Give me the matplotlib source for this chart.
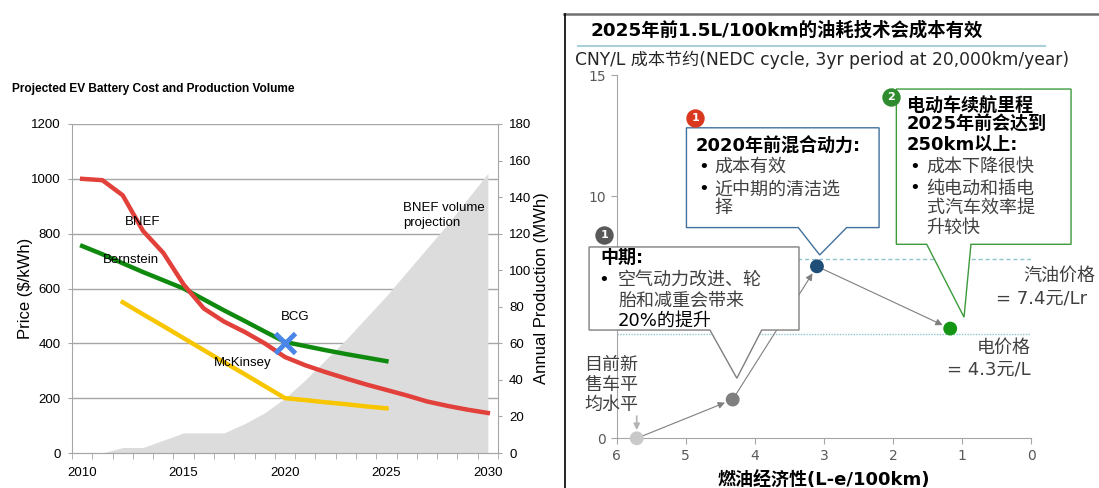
import numpy as np
import matplotlib
matplotlib.use("Agg")
import matplotlib.pyplot as plt
from matplotlib.lines import Line2D
from matplotlib.patches import Polygon

W, H = 1099, 488

# --- battery cost / production volume (left chart) ---
years = list(range(2010, 2031))
bnef_price = [1000, 995, 940, 810, 730, 615, 527, 479, 442, 400, 350,
              320, 295, 272, 250, 230, 210, 188, 172, 158, 146]
bernstein_years = list(range(2010, 2026))
bernstein_price = [755, 725, 692, 660, 630, 600, 560, 520, 482, 443, 405,
                   390, 375, 361, 348, 335]
mckinsey_years = list(range(2012, 2026))
mckinsey_price = [550, 506, 463, 419, 375, 331, 288, 244, 200,
                  193, 185, 178, 170, 163]
bcg_year = [2020]
bcg_price = [400]
volume = [0, 0, 3, 3, 7, 11, 11, 11, 16, 22, 30,
          40, 51, 62, 74, 86, 99, 112, 125, 139, 153]
price_ticks = [0, 200, 400, 600, 800, 1000, 1200]
volume_ticks = list(range(0, 181, 20))
year_ticks = [2010, 2015, 2020, 2025, 2030]

# --- fuel economy vs cost saving (right chart) ---
economy = [5.71, 4.32, 3.10, 1.17]      # L-e/100km
saving = [0, 1.6, 7.1, 4.53]            # CNY/L
point_colors = ['#c9c9c9', '#7f7f7f', '#1f4e79', '#149614']
petrol_price = 7.4
power_price = 4.3

SANS = ['Liberation Sans', 'DejaVu Sans']
CJK = ['DejaVu Sans', 'Noto Sans CJK SC']
GRID = '#a6a6a6'

fig = plt.figure(figsize=(W / 100, H / 100), dpi=100)

# ---------------- left chart ----------------
ax = fig.add_axes([72 / W, 1 - 453 / H, 426 / W, 329 / H])
ax2 = ax.twinx()
ax2.set_zorder(0)
ax.set_zorder(1)
ax.patch.set_visible(False)

for t in price_ticks[1:]:
    ax2.plot([0, 1], [t, t], transform=ax.get_yaxis_transform(),
             color=GRID, lw=1, zorder=0)
ax2.fill_between(years, volume, 0, color='#dcdcdc', lw=0, zorder=1)

ax.plot(bernstein_years, bernstein_price, color='#0f8a0f', lw=3.2)
ax.plot(years, bnef_price, color='#e2403a', lw=3.2)
ax.plot(mckinsey_years, mckinsey_price, color='#f7c600', lw=3.2)
ax.plot(bcg_year, bcg_price, ls='none', marker='x', ms=14, mew=3.5,
        color='#4a86e8')

lbl = dict(fontsize=9.5, family=SANS, va='center')
ax.text(2013.0, 843, 'BNEF', ha='center', **lbl)
ax.text(2012.4, 704, 'Bernstein', ha='center', **lbl)
ax.text(2017.9, 328, 'McKinsey', ha='center', **lbl)
ax.text(2019.8, 495, 'BCG', ha='left', **lbl)
ax2.text(2025.8, 130, 'BNEF volume\nprojection', ha='left', linespacing=1.3, **lbl)

ax.set_xlim(2009.5, 2030.5)
ax.set_ylim(0, 1200)
ax2.set_ylim(0, 180)
ax.set_xticks(year_ticks)
ax.set_xticks(np.arange(2009.5, 2031, 1), minor=True)
ax.set_yticks(price_ticks)
ax2.set_yticks(volume_ticks)
ax.tick_params(axis='x', which='major', length=0, pad=10, labelsize=9.5)
ax.tick_params(axis='x', which='minor', length=4, color=GRID)
ax.tick_params(axis='y', length=3, color=GRID, pad=5, labelsize=9.5)
ax2.tick_params(axis='y', length=3, color=GRID, pad=5, labelsize=9.5)
for lab in ax.get_xticklabels() + ax.get_yticklabels() + ax2.get_yticklabels():
    lab.set_family(SANS)

for a in (ax, ax2):
    a.spines['top'].set_visible(False)
    for s in a.spines.values():
        s.set_color(GRID)
ax.spines['right'].set_visible(False)
ax2.spines['left'].set_visible(False)

ax.set_ylabel('Price ($/kWh)', fontsize=12, family=SANS, labelpad=-1)
ax2.set_ylabel('Annual Production (MWh)', fontsize=12, family=SANS, labelpad=2)
fig.text(12 / W, 1 - 89 / H, 'Projected EV Battery Cost and Production Volume',
         fontsize=8.6, weight='bold', family=SANS, va='center')

# ---------------- right chart ----------------
fig.add_artist(Line2D([564 / W, 1], [1 - 14 / H] * 2, color='#707070', lw=1.8))
fig.add_artist(Line2D([565 / W] * 2, [0, 1 - 14 / H], color='black', lw=1.2))
fig.add_artist(Line2D([578 / W, 1045 / W], [1 - 45.5 / H] * 2, color='#a9d0da', lw=1.5))
fig.text(590 / W, 1 - 30 / H, '2025年前1.5L/100km的油耗技术会成本有效',
         fontsize=13.2, weight='bold', family=CJK, va='center')
fig.text(575 / W, 1 - 60 / H, 'CNY/L 成本节约(NEDC cycle, 3yr period at 20,000km/year)',
         fontsize=12.3, family=CJK, va='center', color='#262626')

rx = fig.add_axes([616.7 / W, 1 - 438.3 / H, 414.3 / W, 363.3 / H])
rx.set_xlim(6, 0)
rx.set_ylim(0, 15)
rx.set_xticks([6, 5, 4, 3, 2, 1, 0])
rx.set_yticks([0, 5, 10, 15])
rx.tick_params(length=4, color=GRID, labelsize=10, labelcolor='#595959', pad=4)
for s in ('top', 'right'):
    rx.spines[s].set_visible(False)
for s in ('left', 'bottom'):
    rx.spines[s].set_color(GRID)
rx.set_xlabel('燃油经济性(L-e/100km)', fontsize=13, weight='bold', family=CJK, labelpad=6)

rx.axhline(petrol_price, color='#8fc5d1', ls=(0, (3, 2)), lw=1, zorder=1)
rx.axhline(power_price, color='#8fc5d1', ls=(0, (1, 1)), lw=1, zorder=1)

for i in range(len(economy) - 1):
    rx.annotate('', xy=(economy[i + 1], saving[i + 1]), xytext=(economy[i], saving[i]),
                arrowprops=dict(arrowstyle='-|>', color='#7f7f7f', lw=0.8,
                                shrinkA=5, shrinkB=6, mutation_scale=10), zorder=2)
rx.annotate('', xy=(economy[0], 0.34), xytext=(economy[0], 0.92),
            arrowprops=dict(arrowstyle='-|>', color='#b4b4b4', lw=1.2,
                            shrinkA=0, shrinkB=0, mutation_scale=9), zorder=2)
rx.scatter(economy, saving, s=80, c=point_colors, zorder=5, clip_on=False)


def callout(x0, x1, y0, y1, b0, b1, tip, edge):
    verts = [(x0, y1), (x1, y1), (x1, y0), (b1, y0), tip, (b0, y0), (x0, y0)]
    rx.add_patch(Polygon(verts, closed=True, facecolor='white', edgecolor=edge,
                         lw=1, zorder=3, clip_on=False))


def badge(x, y, num, color):
    rx.scatter([x], [y], s=150, color=color, zorder=6, clip_on=False)
    rx.text(x, y, num, color='white', fontsize=8, weight='bold', ha='center',
            va='center', zorder=7, family='DejaVu Sans')


callout(6.40, 3.36, 4.47, 7.90, 4.65, 3.90, (4.26, 2.48), '#7f7f7f')
callout(4.99, 2.20, 8.70, 12.82, 3.37, 2.67, (3.06, 7.57), '#41719c')
callout(1.95, -0.58, 8.01, 14.42, 1.51, 0.87, (0.97, 5.0), '#3c9a3c')
badge(6.18, 8.39, '1', '#595959')
badge(4.86, 13.24, '1', '#d9381e')
badge(2.03, 14.08, '2', '#2e8b2e')


def box_text(x, y, s, bold=False, color='#404040'):
    rx.text(x, y, s, fontsize=13, family=CJK, weight='bold' if bold else 'normal',
            color=color, ha='left', va='center', zorder=8, clip_on=False)


box_text(6.24, 7.44, '中期:', bold=True, color='black')
box_text(6.27, 6.54, '•', color='black')
box_text(5.98, 6.54, '空气动力改进、轮')
box_text(5.98, 5.67, '胎和减重会带来')
box_text(5.98, 4.84, '20%的提升', color='black')

box_text(4.86, 12.04, '2020年前混合动力:', bold=True, color='black')
box_text(4.82, 11.21, '•', color='black')
box_text(4.58, 11.21, '成本有效')
box_text(4.82, 10.28, '•', color='black')
box_text(4.58, 10.28, '近中期的清洁选')
box_text(4.58, 9.50, '择')

box_text(1.80, 13.69, '电动车续航里程', bold=True, color='black')
box_text(1.80, 12.94, '2025年前会达到', bold=True, color='black')
box_text(1.80, 12.11, '250km以上:', bold=True, color='black')
box_text(1.76, 11.21, '•', color='black')
box_text(1.51, 11.21, '成本下降很快')
box_text(1.76, 10.32, '•', color='black')
box_text(1.51, 10.32, '纯电动和插电')
box_text(1.51, 9.50, '式汽车效率提')
box_text(1.51, 8.67, '升较快')


def side_text(x, y, s, ha='right'):
    rx.text(x, y, s, fontsize=13, family=CJK, color='#404040', ha=ha,
            va='center', clip_on=False)


side_text(-0.93, 6.71, '汽油价格')
side_text(-0.81, 5.78, '= 7.4元/Lr')
side_text(0.01, 3.72, '电价格')
side_text(0.01, 2.82, '= 4.3元/L')
side_text(6.08, 3.03, '目前新', ha='center')
side_text(6.08, 2.20, '售车平', ha='center')
side_text(6.08, 1.38, '均水平', ha='center')

fig.savefig('out.png', dpi=100)
